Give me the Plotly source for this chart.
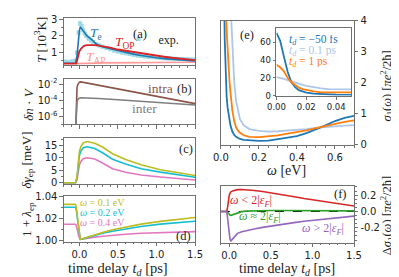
import plotly.graph_objects as go

W, H = 399, 277

# ---------------- data ----------------
# (a) temperatures [10^3 K]
t_te = [-0.2, -0.05, -0.03, -0.01, 0.0, 0.012, 0.03, 0.06, 0.1, 0.165, 0.225, 0.3, 0.4, 0.5, 0.6, 0.7, 0.8, 0.9, 1.0, 1.1, 1.2, 1.3, 1.4, 1.5]
Te = [0.35, 0.35, 0.8, 1.9, 2.3, 2.55, 2.45, 2.23, 2.0, 1.76, 1.5, 1.34, 1.22, 1.1, 0.99, 0.9, 0.82, 0.74, 0.68, 0.63, 0.58, 0.54, 0.51, 0.48]
t_op = [-0.2, -0.04, -0.03, -0.02, -0.01, 0.0, 0.02, 0.04, 0.06, 0.1, 0.15, 0.2, 0.25, 0.3, 0.4, 0.5, 0.6, 0.7, 0.8, 0.9, 1.0, 1.1, 1.2, 1.3, 1.4, 1.5]
Top = [0.33, 0.33, 0.5, 0.7, 0.9, 1.05, 1.22, 1.33, 1.4, 1.45, 1.46, 1.45, 1.42, 1.39, 1.29, 1.18, 1.1, 1.02, 0.94, 0.87, 0.8, 0.74, 0.68, 0.63, 0.58, 0.54]
t_ap = [-0.2, -0.04, 0.0, 0.1, 0.3, 0.6, 1.0, 1.5]
Tap = [0.31, 0.31, 0.32, 0.34, 0.37, 0.39, 0.4, 0.41]
t_exp = [-0.18, -0.14, -0.10, -0.06, -0.03, -0.01, 0.01, 0.03, 0.05, 0.07, 0.09, 0.12, 0.15, 0.18, 0.22, 0.26, 0.30, 0.35, 0.40, 0.45, 0.50, 0.55, 0.60, 0.65, 0.70, 0.75, 0.80, 0.85, 0.90, 0.95, 1.00, 1.05, 1.10, 1.15, 1.20, 1.25, 1.30, 1.35, 1.40, 1.45, 1.50]
T_exp = [0.45, 0.42, 0.46, 0.50, 1.0, 2.2, 2.75, 2.6, 2.35, 2.15, 2.0, 1.85, 1.72, 1.62, 1.5, 1.42, 1.35, 1.27, 1.2, 1.12, 1.06, 1.0, 0.95, 0.9, 0.86, 0.82, 0.79, 0.76, 0.73, 0.71, 0.69, 0.67, 0.65, 0.64, 0.63, 0.62, 0.61, 0.60, 0.59, 0.58, 0.58]
T_err = [0.08, 0.08, 0.08, 0.08, 0.1, 0.12, 0.12, 0.12, 0.1, 0.1, 0.1, 0.1, 0.08, 0.08, 0.08, 0.08, 0.08, 0.08, 0.08, 0.08, 0.08, 0.08, 0.08, 0.08, 0.08, 0.08, 0.08, 0.08, 0.08, 0.08, 0.08, 0.08, 0.08, 0.08, 0.08, 0.08, 0.08, 0.08, 0.08, 0.08, 0.08]

# (b) carrier densities
t_n = [-0.2, -0.05, -0.045, -0.04, -0.03, -0.02, -0.01, 0.0, 0.02, 0.1, 0.25, 0.5, 0.75, 1.0, 1.25, 1.5]
n_intra = [1e-9, 1e-9, 1e-7, 3e-4, 4e-3, 9e-3, 1.4e-2, 1.75e-2, 1.9e-2, 1.35e-2, 7.2e-3, 2.5e-3, 8.9e-4, 3.2e-4, 1.1e-4, 3.8e-5]
n_inter = [1e-9, 1e-9, 1e-7, 3e-6, 5e-5, 1.3e-4, 1.6e-4, 1.8e-4, 2.0e-4, 1.9e-4, 1.6e-4, 1.15e-4, 8e-5, 5.6e-5, 3.9e-5, 2.6e-5]

# (c) delta gamma_ep [meV]
t_c = [-0.2, -0.05, -0.03, -0.02, -0.01, 0.0, 0.02, 0.05, 0.1, 0.15, 0.2, 0.3, 0.43, 0.6, 0.8, 1.05, 1.3, 1.5]
g_01 = [0, 0, 2.5, 6.5, 10, 12.5, 14.5, 16.0, 16.5, 16.3, 15.8, 14.3, 11.6, 9.3, 7.2, 5.2, 3.8, 2.9]
g_02 = [0, 0, 2.0, 5.5, 8.5, 10.8, 12.7, 14.0, 14.4, 14.2, 13.7, 12.0, 9.4, 7.5, 5.6, 4.25, 2.95, 2.2]
g_04 = [0, 0, 1.2, 3.5, 5.5, 7.0, 8.5, 9.6, 10.0, 9.9, 9.5, 7.9, 5.6, 4.2, 3.1, 2.3, 1.5, 1.05]

# (d) 1 + lambda_ep
t_d = [-0.2, -0.05, -0.04, -0.03, -0.02, -0.01, 0.0, 0.012, 0.03, 0.06, 0.1, 0.2, 0.3, 0.43, 0.6, 0.8, 1.05, 1.3, 1.5]
l_01 = [1.0333, 1.0333, 1.031, 1.025, 1.017, 1.009, 1.004, 1.0015, 1.0018, 1.0025, 1.0035, 1.0058, 1.0078, 1.0102, 1.0128, 1.0153, 1.0178, 1.0198, 1.0213]
l_02 = [1.0306, 1.0306, 1.0285, 1.023, 1.016, 1.009, 1.004, 1.0015, 1.0017, 1.0023, 1.0032, 1.0052, 1.007, 1.0088, 1.011, 1.0132, 1.0153, 1.017, 1.018]
l_04 = [1.0152, 1.0152, 1.0142, 1.012, 1.009, 1.0055, 1.003, 1.0015, 1.0016, 1.002, 1.0025, 1.0035, 1.0043, 1.0052, 1.0061, 1.007, 1.0077, 1.0082, 1.0085]

# (e) sigma_1(omega)
w = [0.0, 0.0025, 0.005, 0.0075, 0.01, 0.0125, 0.015, 0.0175, 0.02, 0.025, 0.03, 0.035, 0.04, 0.045, 0.05, 0.06, 0.07, 0.08, 0.09, 0.1, 0.12, 0.15, 0.2, 0.25, 0.3, 0.35, 0.4, 0.45, 0.5, 0.55, 0.6, 0.65, 0.7]
s_m50fs = [71, 62, 44, 27, 15, 9.5, 6.2, 4.5, 3.4, 2.2, 1.55, 1.2, 0.95, 0.76, 0.62, 0.42, 0.31, 0.25, 0.21, 0.18, 0.15, 0.13, 0.12, 0.13, 0.17, 0.21, 0.27, 0.37, 0.49, 0.62, 0.76, 0.86, 0.93]
s_01ps = [21, 20.3, 19, 17.5, 16, 14.5, 13.2, 12, 11, 9.4, 8.2, 7.2, 6.4, 5.5, 4.6, 3.0, 2.0, 1.4, 1.05, 0.82, 0.62, 0.5, 0.44, 0.42, 0.43, 0.45, 0.47, 0.5, 0.54, 0.57, 0.59, 0.61, 0.63]
s_1ps = [35, 32, 27.5, 20, 15, 11.5, 9, 7.3, 6.2, 4.7, 3.7, 3.0, 2.5, 2.05, 1.7, 1.1, 0.75, 0.55, 0.45, 0.38, 0.3, 0.25, 0.24, 0.26, 0.3, 0.35, 0.4, 0.46, 0.53, 0.6, 0.67, 0.73, 0.78]

# (f) delta sigma_1
t_f = [-0.1, -0.03, -0.02, -0.01, 0.0, 0.01, 0.02, 0.04, 0.07, 0.1, 0.15, 0.2, 0.3, 0.4, 0.5, 0.6, 0.7, 0.8, 0.9, 1.0, 1.1, 1.2, 1.3, 1.4, 1.5]
ds_lt = [0, 0, 0.05, 0.14, 0.2, 0.225, 0.24, 0.252, 0.262, 0.268, 0.27, 0.268, 0.258, 0.245, 0.23, 0.213, 0.196, 0.178, 0.16, 0.144, 0.128, 0.112, 0.097, 0.082, 0.067]
ds_eq = [0, 0, -0.01, -0.025, -0.038, -0.045, -0.047, -0.04, -0.025, -0.012, -0.002, 0.004, 0.009, 0.011, 0.012, 0.012, 0.012, 0.011, 0.011, 0.01, 0.01, 0.009, 0.009, 0.008, 0.008]
ds_gt = [0, 0, -0.08, -0.2, -0.3, -0.345, -0.36, -0.34, -0.3, -0.268, -0.248, -0.235, -0.215, -0.195, -0.178, -0.162, -0.147, -0.133, -0.12, -0.108, -0.097, -0.086, -0.076, -0.066, -0.057]

# ---------------- styling ----------------
SERIF = "Liberation Serif"
SANS = "DejaVu Sans"
C_BLUE, C_LBLUE, C_ORANGE = "#1f77b4", "#aec7e8", "#ff7f0e"
C_RED, C_PINK, C_BROWN, C_GRAY = "#d62728", "#ff9896", "#8c564b", "#7f7f7f"
C_OLIVE, C_CYAN, C_MAG = "#bcbd22", "#17becf", "#e377c2"
C_GREEN, C_PURPLE, C_EXP = "#2ca02c", "#9467bd", "#9edae5"
FRAME = "#707070"


def px(x):
    return x / W


def py(y):
    return 1 - y / H


def axis(domain, anchor, rng, **kw):
    d = dict(domain=domain, anchor=anchor, range=rng, showline=True, linecolor=FRAME,
             linewidth=0.9, mirror=True, ticks="outside", ticklen=3.5, tickwidth=0.8,
             tickcolor=FRAME, showgrid=False, zeroline=False,
             tickfont=dict(family=SANS, size=10, color="#222"))
    d.update(kw)
    return d


def minor(dt, t0=0):
    return dict(ticks="outside", dtick=dt, tick0=t0, ticklen=2, tickwidth=0.7, tickcolor=FRAME, showgrid=False)


LX = [px(49), px(186)]
RX = [px(213), px(352)]
tx_left = dict(tickmode="array", tickvals=[0, 0.5, 1.0, 1.5], ticktext=["0.0", "0.5", "1.0", "1.5"], minor=minor(0.1))

fig = go.Figure()


def line(x, y, color, xa, ya, width=1.6, dash=None):
    fig.add_trace(go.Scatter(x=x, y=y, mode="lines", xaxis=xa, yaxis=ya, showlegend=False,
                             line=dict(color=color, width=width, dash=dash), hoverinfo="skip"))


# (a)
fig.add_trace(go.Scatter(x=t_exp, y=T_exp, mode="markers", xaxis="x", yaxis="y", name="exp.",
                         marker=dict(symbol="square", size=4, color=C_EXP),
                         error_y=dict(type="data", array=T_err, color=C_EXP, thickness=1, width=1.5),
                         showlegend=True))
line(t_ap, Tap, C_PINK, "x", "y")
line(t_te, Te, C_BLUE, "x", "y")
line(t_op, Top, C_RED, "x", "y", width=1.8)
# (b)
line(t_n, n_intra, C_BROWN, "x2", "y2")
line(t_n, n_inter, C_GRAY, "x2", "y2")
# (c)
line(t_c, g_04, C_MAG, "x3", "y3")
line(t_c, g_02, C_CYAN, "x3", "y3")
line(t_c, g_01, C_OLIVE, "x3", "y3")
# (d)
line(t_d, l_04, C_MAG, "x4", "y4")
line(t_d, l_02, C_CYAN, "x4", "y4")
line(t_d, l_01, C_OLIVE, "x4", "y4")
# (e)
line(w, s_01ps, C_LBLUE, "x5", "y5", width=1.8)
line(w, s_m50fs, C_BLUE, "x5", "y5", width=1.8)
line(w, s_1ps, C_ORANGE, "x5", "y5", width=1.8)
# (f)
line(t_f, ds_eq, C_GREEN, "x6", "y6")
line(t_f, ds_lt, C_RED, "x6", "y6")
line(t_f, ds_gt, C_PURPLE, "x6", "y6")
# inset
line(w, s_01ps, C_LBLUE, "x7", "y7", width=1.8)
line(w, s_m50fs, C_BLUE, "x7", "y7", width=1.8)
line(w, s_1ps, C_ORANGE, "x7", "y7", width=1.8)

fig.update_layout(
    width=W, height=H, margin=dict(l=0, r=0, t=0, b=0),
    paper_bgcolor="white", plot_bgcolor="white",
    showlegend=True,
    legend=dict(x=px(106), y=py(12), xanchor="left", yanchor="top", bgcolor="rgba(0,0,0,0)",
                font=dict(family=SERIF, size=12, color="#222"), itemwidth=30,
                tracegroupgap=0, borderwidth=0),
    xaxis=axis(LX, "y", [-0.2, 1.5], showticklabels=False, **tx_left),
    yaxis=axis([py(54), py(5)], "x", [0.25, 3.1], tickmode="array", tickvals=[1, 2, 3], minor=minor(0.5)),
    xaxis2=axis(LX, "y2", [-0.2, 1.5], showticklabels=False, **tx_left),
    yaxis2=axis([py(116), py(69)], "x2", [-7.0, -1.4], type="log", tickmode="array",
                tickvals=[1e-6, 1e-4, 1e-2], ticktext=["10<sup>-6</sup>", "10<sup>-4</sup>", "10<sup>-2</sup>"],
                minor=dict(ticks="outside", tickmode="array", tickvals=[1e-7, 1e-5, 1e-3], ticklen=2,
                           tickwidth=0.7, tickcolor=FRAME)),
    xaxis3=axis(LX, "y3", [-0.2, 1.5], showticklabels=False, **tx_left),
    yaxis3=axis([py(178), py(130)], "x3", [-0.5, 18], tickmode="array", tickvals=[0, 5, 10, 15], minor=minor(2.5)),
    xaxis4=axis(LX, "y4", [-0.2, 1.5], **tx_left),
    yaxis4=axis([py(238), py(191)], "x4", [0.9995, 1.0405], tickmode="array", tickvals=[1.0, 1.02, 1.04],
                ticktext=["1.00", "1.02", "1.04"], minor=minor(0.01)),
    xaxis5=axis(RX, "y5", [0, 0.7], tickmode="array", tickvals=[0, 0.2, 0.4, 0.6],
                ticktext=["0.0", "0.2", "0.4", "0.6"], minor=minor(0.05)),
    yaxis5=axis([py(137), py(8)], "x5", [0, 4], side="right", tickmode="array", tickvals=[0, 1, 2, 3, 4]),
    xaxis6=axis(RX, "y6", [-0.1, 1.5], tickmode="array", tickvals=[0, 0.5, 1.0, 1.5],
                ticktext=["0.0", "0.5", "1.0", "1.5"], minor=minor(0.1)),
    yaxis6=axis([py(239), py(180)], "x6", [-0.38, 0.314], side="right", tickmode="array",
                tickvals=[-0.2, 0, 0.2], ticktext=["-0.2", "0.0", "0.2"], minor=minor(0.05)),
    xaxis7=axis([px(271), px(349)], "y7", [0, 0.05], tickmode="array", tickvals=[0, 0.02, 0.04],
                ticktext=["0.00", "0.02", "0.04"], ticklen=3, tickfont=dict(family=SANS, size=8.5, color="#222")),
    yaxis7=axis([py(86), py(16)], "x7", [0, 76], tickmode="array", tickvals=[0, 20, 40, 60], ticklen=3,
                tickfont=dict(family=SANS, size=8.5, color="#222")),
)

# white background of the inset, drawn inside the inset subplot below its lines
fig.add_shape(type="rect", xref="x7", yref="y7", x0=0, x1=0.05, y0=0, y1=76,
              fillcolor="white", line=dict(width=0), layer="below")
# dashed zero reference in (f)
fig.add_shape(type="line", xref="x6 domain", yref="y6", x0=0, x1=1, y0=0, y1=0,
              line=dict(color="black", width=1, dash="dash"), layer="below")


def note(text, x, y, color="#222", size=12, anchor="center", angle=0, family=SERIF, height=None):
    kw = {}
    if height is not None:
        kw["height"] = height
    fig.add_annotation(text=text, x=px(x), y=py(y), xref="paper", yref="paper", showarrow=False,
                       xanchor=anchor, yanchor="middle", textangle=angle, borderpad=0,
                       font=dict(family=family, size=size, color=color), **kw)


# panel labels and in-plot texts
note("(a)", 128, 22, size=12.5)
note("<i>T</i><sub>e</sub>", 82, 21, C_BLUE, 13.5)
note("<i>T</i><sub>OP</sub>", 113, 31, C_RED, 13.5)
note("<i>T</i><sub>AP</sub>", 83, 46, C_PINK, 13.5)
note("intra", 150, 79, C_BROWN, 13.5)
note("(b)", 175, 79, size=12.5)
note("inter", 133, 99, C_GRAY, 13.5)
note("(c)", 176, 142, size=12.5)
note("<i>ω</i> = 0.1 eV", 65, 197, C_OLIVE, 10, "left", height=9)
note("<i>ω</i> = 0.2 eV", 65, 207.5, C_CYAN, 10, "left", height=9)
note("<i>ω</i> = 0.4 eV", 65, 218.5, C_MAG, 10, "left", height=9)
note("(d)", 174, 232, size=12.5)
note("(e)", 240, 23, size=12.5)
note("<i>t</i><sub><i>d</i></sub> = −50 fs", 283, 28.5, C_BLUE, 11.5, "left", height=10)
note("<i>t</i><sub><i>d</i></sub> = 0.1 ps", 283, 40, C_LBLUE, 11.5, "left", height=10)
note("<i>t</i><sub><i>d</i></sub> = 1 ps", 283, 51.5, C_ORANGE, 11.5, "left", height=10)
note("(f)", 338, 189, size=12.5)
note("<i>ω</i> < 2|<i>ε</i><sub><i>F</i></sub>|", 244, 196, C_RED, 12)
note("<i>ω</i> ≈ 2|<i>ε</i><sub><i>F</i></sub>|", 254, 212, C_GREEN, 12)
note("<i>ω</i> > 2|<i>ε</i><sub><i>F</i></sub>|", 320, 225, C_PURPLE, 12)

# axis titles
note("time delay <i>t</i><sub><i>d</i></sub> [ps]", 105, 267, size=14.5)
note("time delay <i>t</i><sub><i>d</i></sub> [ps]", 282, 267, size=14)
note("<i>ω</i> [eV]", 282, 164, size=14)
note("<i>T</i> [10<sup>3</sup>K]", 24, 28, size=13, angle=-90)
note("<i>δn</i> · <i>V</i>", 12, 95, size=13, angle=-90)
note("<i>δγ</i><sub>ep</sub> [meV]", 11, 153, size=13, angle=-90)
note("1 + <i>λ</i><sub>ep</sub>", 11, 215, size=13, angle=-90)
note("<i>σ</i><sub>1</sub>(<i>ω</i>) [<i>πe</i><sup>2</sup>/2ħ]", 386, 76, size=12.5, angle=-90)
note("Δ<i>σ</i><sub>1</sub>(<i>ω</i>) [<i>πe</i><sup>2</sup>/2ħ]", 386, 211, size=12.5, angle=-90)

fig.write_html("out.html")
